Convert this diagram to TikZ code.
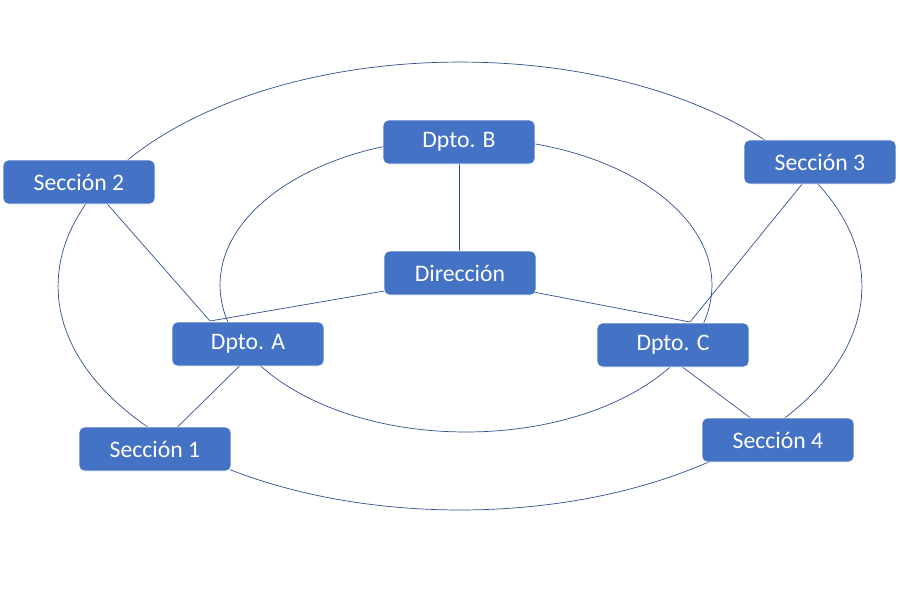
\documentclass[tikz,border=0pt]{standalone}
\usepackage{fontspec}
\setmainfont{Carlito}
\usepackage{tikz}

\begin{document}
\begin{tikzpicture}[x=0.02cm,y=-0.02cm,
  caja/.style={draw=white,fill=cajaazul,rounded corners=3pt,text=white,
    minimum width=3.04cm,minimum height=0.88cm,inner sep=0pt,
    font=\fontsize{13.5}{16}\selectfont},
  linea/.style={draw=lineaazul,thin}]
\definecolor{cajaazul}{HTML}{4472C4}
\definecolor{lineaazul}{HTML}{2F4F8F}
\useasboundingbox (0,0) rectangle (900,600);

% elipses
\draw[linea] (460,286) ellipse [x radius=8.04cm,y radius=4.48cm];
\draw[linea] (466,285) ellipse [x radius=4.92cm,y radius=2.94cm];

% uniones
\coordinate (jA) at (210,321);
\coordinate (jC) at (690,322);
\coordinate (jB) at (459,251);

% lineas
\draw[linea] (459,142) -- (jB);
\draw[linea] (460,278) -- (jA);
\draw[linea] (460,278) -- (jC);
\draw[linea] (88,182) -- (jA);
\draw[linea] (820,162) -- (jC);
\draw[linea] (262,344) -- (155,449);
\draw[linea] (653,345) -- (780,440);

% cajas
\node[caja] (dB) at (459,142) {Dpto. B};
\node[caja] (dir) at (460,273) {Dirección};
\node[caja] (dA) at (248,344) {Dpto. A};
\node[caja] (dC) at (673,345) {Dpto. C};
\node[caja] (s2) at (79,182) {Sección 2};
\node[caja] (s3) at (820,162) {Sección 3};
\node[caja] (s1) at (155,449) {Sección 1};
\node[caja] (s4) at (778,440) {Sección 4};

\end{tikzpicture}
\end{document}
